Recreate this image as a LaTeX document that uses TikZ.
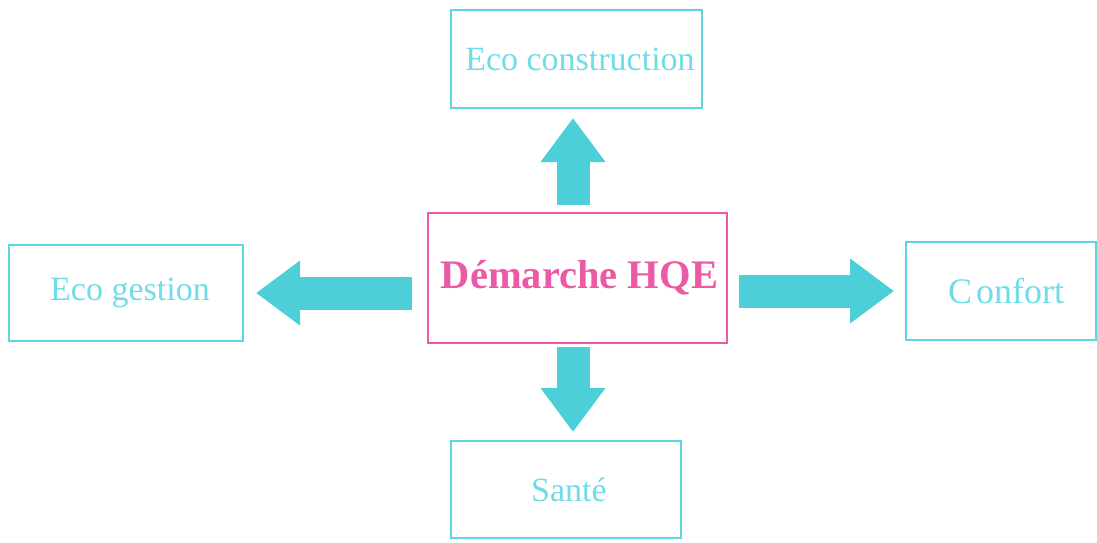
\documentclass[tikz,border=0pt]{standalone}
\usepackage{fontspec}
\setmainfont{Liberation Serif}
\usetikzlibrary{arrows.meta}
\definecolor{cy}{HTML}{4DCFD9}
\definecolor{cyline}{HTML}{5CD6E1}
\definecolor{cytext}{HTML}{6FDCE8}
\definecolor{mag}{HTML}{EC5AA6}
\tikzset{
  sidebox/.style={draw=cyline, line width=2pt, inner sep=0pt, text=cytext, font=\fontsize{34}{34}\selectfont},
  mainbox/.style={draw=mag, line width=2.4pt, inner sep=0pt, text=mag, font=\fontsize{40.5}{40}\selectfont\bfseries},
  blockarrow/.style={draw=cy, line width=33pt, -{Triangle[width=62pt,length=44pt]}}
}
\begin{document}
\begin{tikzpicture}[x=1pt,y=-1pt]
\useasboundingbox (0,0) rectangle (1097,542);
\node[mainbox, minimum width=299pt, minimum height=130pt] (c) at (577.5,278) {\hspace*{4pt}Démarche HQE};
\node[sidebox, minimum width=251pt, minimum height=98pt] (t) at (576.5,59) {\hspace*{7pt}Eco construction};
\node[sidebox, minimum width=234pt, minimum height=96pt] (l) at (126,293) {\hspace*{8pt}Eco gestion};
\node[sidebox, minimum width=190pt, minimum height=98pt, font=\fontsize{36}{36}\selectfont] (r) at (1001,291) {\hspace*{10pt}C\kern4ptonfort};
\node[sidebox, minimum width=230pt, minimum height=97pt] (b) at (566,489.5) {\hspace*{6pt}Santé};
\coordinate (cu) at (573,205);
\coordinate (tu) at (573,118);
\draw[blockarrow] (cu) -- (tu);
\draw[blockarrow, shorten <=15pt, shorten >=12pt] (c.west |- l.east) -- (l.east);
\draw[blockarrow, shorten <=11pt, shorten >=11pt] (c.east |- r.west) -- (r.west);
\coordinate (cd) at (573,347);
\coordinate (bd) at (573,432);
\draw[blockarrow] (cd) -- (bd);
\end{tikzpicture}
\end{document}
